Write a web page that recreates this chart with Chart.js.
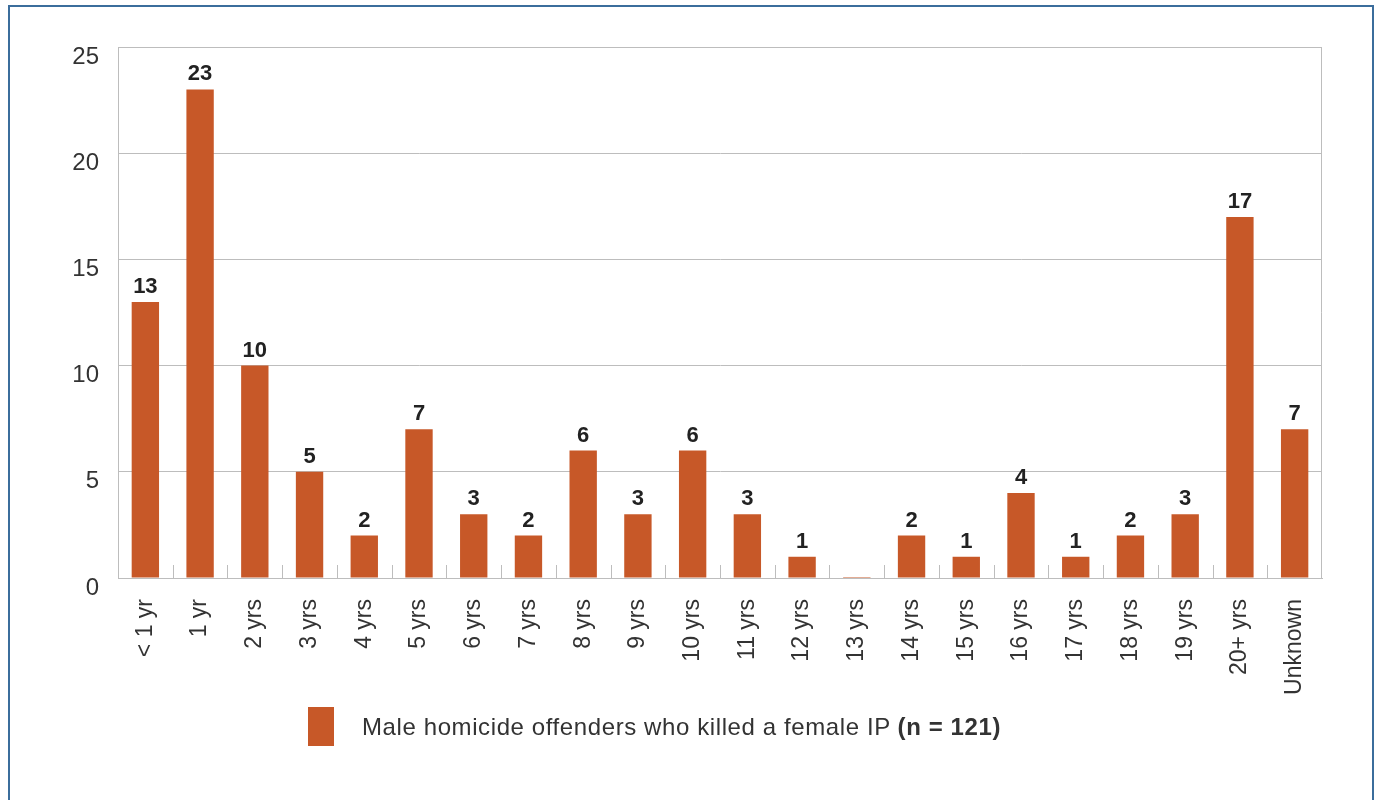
<!DOCTYPE html>
<html>
<head>
<meta charset="utf-8">
<script src="https://cdn.jsdelivr.net/npm/chart.js@4/dist/chart.umd.min.js"></script>
<style>
  body { margin: 0; background: #fff; font-family: "Liberation Sans", Arial, sans-serif; }
  #frame { position: absolute; left: 8px; top: 5px; width: 1362px; height: 830px; border: 2px solid #3b6d9c; border-bottom: none; }
  #chart { position: absolute; left: 0; top: 0; }
  #legend { position: absolute; left: 308px; top: 707px; display: flex; align-items: center; color: #333; font-size: 24px; letter-spacing: 0.6px; }
  #legend .box { width: 26px; height: 39px; margin-right: 28px; }
</style>
</head>
<body>
<div id="frame"></div>
<canvas id="chart" width="1379" height="800"></canvas>
<div id="legend"></div>
<script>
const categories = ['< 1 yr', '1 yr', '2 yrs', '3 yrs', '4 yrs', '5 yrs', '6 yrs', '7 yrs', '8 yrs', '9 yrs', '10 yrs',
  '11 yrs', '12 yrs', '13 yrs', '14 yrs', '15 yrs', '16 yrs', '17 yrs', '18 yrs', '19 yrs', '20+ yrs', 'Unknown'];
const offenders = [13, 23, 10, 5, 2, 7, 3, 2, 6, 3, 6, 3, 1, 0, 2, 1, 4, 1, 2, 3, 17, 7];
const yTicks = [0, 5, 10, 15, 20, 25];
const seriesLabel = 'Male homicide offenders who killed a female IP';
const seriesNote = '(n = 121)';

const barColor = '#c75828';
const lineColor = '#bdbdbd';
const font = 'Liberation Sans';

// value labels over the bars, frame of the plot and the little ticks between bars
const extras = {
  id: 'extras',
  afterDatasetsDraw(chart) {
    const ctx = chart.ctx;
    const area = chart.chartArea;
    const x = chart.scales.x;
    ctx.save();
    ctx.strokeStyle = lineColor;
    ctx.lineWidth = 1;
    ctx.beginPath();
    ctx.moveTo(area.left, area.top + 0.5);
    ctx.lineTo(area.right - 0.5, area.top + 0.5);
    ctx.lineTo(area.right - 0.5, area.bottom);
    for (let i = 1; i < categories.length; i++) {
      const px = Math.round((x.getPixelForValue(i - 1) + x.getPixelForValue(i)) / 2) + 0.5;
      ctx.moveTo(px, area.bottom);
      ctx.lineTo(px, area.bottom - 13);
    }
    ctx.stroke();

    ctx.fillStyle = '#222';
    ctx.font = 'bold 22px ' + font;
    ctx.textAlign = 'center';
    ctx.textBaseline = 'alphabetic';
    chart.getDatasetMeta(0).data.forEach((bar, i) => {
      if (offenders[i] > 0) ctx.fillText(offenders[i], bar.x, bar.y - 9);
    });
    ctx.restore();
  }
};

new Chart(document.getElementById('chart'), {
  type: 'bar',
  data: {
    labels: categories,
    datasets: [{
      label: seriesLabel + ' ' + seriesNote,
      data: offenders,
      backgroundColor: barColor,
      barPercentage: 0.5,
      categoryPercentage: 1,
      minBarLength: 1
    }]
  },
  options: {
    responsive: false,
    animation: false,
    layout: { padding: { left: 20, top: 47, right: 57, bottom: 97 } },
    plugins: { legend: { display: false }, tooltip: { enabled: false } },
    scales: {
      x: {
        grid: { display: false, drawTicks: false },
        border: { display: true, color: lineColor },
        ticks: { minRotation: 90, maxRotation: 90, padding: 21, color: '#333', font: { family: font, size: 23 } },
        afterFit: s => { s.height = 125; }
      },
      y: {
        min: 0,
        max: 25,
        afterBuildTicks: s => { s.ticks = yTicks.map(v => ({ value: v })); },
        grid: { color: lineColor, drawTicks: false },
        border: { display: true, color: lineColor },
        ticks: { padding: 19, labelOffset: 10, color: '#333', font: { family: font, size: 24 } },
        afterFit: s => { s.width = 98; }
      }
    }
  },
  plugins: [extras]
});

const legend = document.getElementById('legend');
legend.innerHTML = '<div class="box" style="background:' + barColor + '"></div>' +
  '<span>' + seriesLabel + ' <b>' + seriesNote + '</b></span>';
</script>
</body>
</html>
